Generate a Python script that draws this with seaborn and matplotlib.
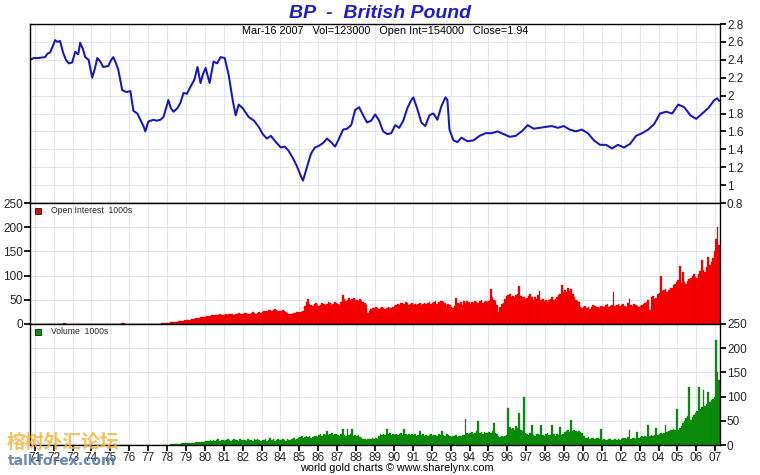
import matplotlib
matplotlib.use("Agg")
import matplotlib.pyplot as plt
import seaborn as sns

# ---------------- data ----------------
price_years = [1970.75, 1970.95, 1971.2, 1971.55, 1971.68, 1971.81, 1971.95, 1972.08, 1972.2, 1972.34,
               1972.5, 1972.65, 1972.8, 1972.98, 1973.14, 1973.3, 1973.4, 1973.55, 1973.67, 1973.85,
               1974.04, 1974.18, 1974.31, 1974.47, 1974.62, 1974.89, 1975.05, 1975.16, 1975.3, 1975.42,
               1975.63, 1975.85, 1976.06, 1976.22, 1976.43, 1976.59, 1976.75, 1976.85, 1977.01, 1977.28,
               1977.45, 1977.65, 1977.81, 1978.07, 1978.2, 1978.34, 1978.55, 1978.71, 1978.87, 1979.05,
               1979.24, 1979.45, 1979.61, 1979.77, 1979.9, 1980.04, 1980.25, 1980.46, 1980.65, 1980.83,
               1981.05, 1981.26, 1981.47, 1981.63, 1981.79, 1982.0, 1982.32, 1982.6, 1982.85, 1983.06,
               1983.28, 1983.49, 1983.8, 1984.02, 1984.23, 1984.44, 1984.66, 1984.87, 1985.08, 1985.19,
               1985.4, 1985.61, 1985.82, 1986.04, 1986.25, 1986.46, 1986.67, 1986.89, 1987.1, 1987.31,
               1987.52, 1987.74, 1987.95, 1988.16, 1988.37, 1988.58, 1988.8, 1989.01, 1989.22, 1989.43,
               1989.65, 1989.86, 1990.07, 1990.28, 1990.5, 1990.71, 1990.92, 1991.03, 1991.24, 1991.45,
               1991.66, 1991.88, 1992.09, 1992.3, 1992.51, 1992.73, 1992.83, 1992.94, 1993.15, 1993.36,
               1993.57, 1993.89, 1994.21, 1994.53, 1994.85, 1995.17, 1995.48, 1995.8, 1996.12, 1996.44,
               1996.76, 1997.08, 1997.39, 1997.71, 1998.03, 1998.35, 1998.67, 1998.99, 1999.3, 1999.62,
               1999.94, 2000.26, 2000.58, 2000.9, 2001.22, 2001.54, 2001.85, 2002.17, 2002.49, 2002.81,
               2003.13, 2003.45, 2003.76, 2004.08, 2004.4, 2004.72, 2005.04, 2005.36, 2005.68, 2005.99,
               2006.31, 2006.63, 2006.95, 2007.1, 2007.21]
price_vals = [2.40, 2.42, 2.42, 2.43, 2.47, 2.48, 2.55, 2.62, 2.60, 2.61,
              2.48, 2.40, 2.36, 2.37, 2.49, 2.46, 2.59, 2.52, 2.43, 2.40,
              2.20, 2.30, 2.42, 2.38, 2.32, 2.33, 2.40, 2.43, 2.36, 2.29,
              2.06, 2.04, 2.05, 1.83, 1.80, 1.73, 1.66, 1.60, 1.71, 1.73,
              1.72, 1.73, 1.76, 1.95, 1.86, 1.82, 1.86, 1.92, 2.03, 2.02,
              2.10, 2.18, 2.32, 2.14, 2.24, 2.31, 2.14, 2.38, 2.36, 2.43,
              2.42, 2.23, 1.95, 1.78, 1.90, 1.86, 1.76, 1.72, 1.65, 1.57,
              1.52, 1.55, 1.47, 1.42, 1.43, 1.38, 1.30, 1.21, 1.10, 1.05,
              1.20, 1.35, 1.42, 1.44, 1.47, 1.52, 1.48, 1.43, 1.52, 1.62,
              1.63, 1.67, 1.84, 1.87, 1.78, 1.70, 1.72, 1.79, 1.72, 1.60,
              1.57, 1.58, 1.67, 1.64, 1.72, 1.86, 1.95, 1.98, 1.85, 1.70,
              1.66, 1.78, 1.80, 1.73, 1.88, 1.98, 1.95, 1.62, 1.50, 1.48,
              1.53, 1.49, 1.50, 1.55, 1.58, 1.58, 1.60, 1.57, 1.54, 1.55,
              1.60, 1.67, 1.63, 1.64, 1.65, 1.66, 1.64, 1.66, 1.62, 1.60,
              1.62, 1.58, 1.50, 1.45, 1.45, 1.41, 1.45, 1.42, 1.46, 1.55,
              1.58, 1.62, 1.68, 1.80, 1.82, 1.80, 1.90, 1.87, 1.78, 1.74,
              1.80, 1.86, 1.95, 1.97, 1.94]

first_year = 1971
# Open interest (1000s), monthly Jan 1971 .. Mar 2007
open_interest = [
    0, 0, 0, 0, 0, 0, 0, 0, 0, 0, 0, 0,            # 1971
    0, 0, 0, 0, 0, 1, 2, 2, 1, 1, 1, 1,            # 1972
    1, 1, 0, 0, 0, 0, 0, 0, 1, 1, 0, 0,            # 1973
    0, 0, 0, 0, 0, 0, 0, 0, 0, 0, 0, 0,            # 1974
    0, 0, 0, 0, 0, 0, 1, 2, 2, 1, 0, 0,            # 1975
    0, 0, 0, 0, 0, 0, 0, 0, 1, 1, 1, 0,            # 1976
    0, 0, 0, 0, 1, 1, 1, 1, 2, 2, 3, 3,            # 1977
    3, 3, 4, 4, 4, 5, 5, 6, 6, 7, 7, 8,            # 1978
    8, 9, 9, 10, 10, 11, 12, 12, 13, 14, 15, 15,   # 1979
    15, 16, 17, 17, 18, 18, 19, 18, 19, 20, 19, 19,  # 1980
    19, 20, 19, 20, 21, 20, 19, 20, 21, 22, 20, 21,  # 1981
    21, 22, 23, 21, 20, 22, 24, 22, 21, 23, 25, 22,  # 1982
    24, 26, 27, 26, 28, 29, 27, 28, 30, 28, 27, 26,  # 1983
    27, 28, 26, 25, 22, 21, 20, 21, 22, 23, 24, 25,  # 1984
    24, 25, 27, 38, 46, 52, 42, 40, 38, 41, 44, 40,  # 1985
    38, 40, 44, 42, 39, 41, 45, 43, 40, 42, 46, 44,  # 1986
    42, 40, 45, 60, 52, 48, 50, 54, 49, 51, 53, 50,  # 1987
    50, 47, 52, 48, 45, 44, 40, 23, 26, 30, 33, 34,  # 1988
    35, 33, 32, 34, 36, 33, 31, 34, 35, 33, 34, 36,  # 1989
    38, 40, 42, 40, 44, 43, 41, 45, 44, 40, 41, 43,  # 1990
    40, 42, 39, 41, 43, 40, 42, 44, 41, 43, 45, 42,  # 1991
    44, 46, 48, 42, 45, 47, 48, 46, 43, 40, 41, 39,  # 1992
    36, 34, 38, 54, 44, 42, 46, 40, 48, 44, 47, 45,  # 1993
    42, 46, 44, 48, 45, 43, 47, 49, 44, 46, 48, 45,  # 1994
    47, 73, 55, 50, 48, 40, 24, 35, 42, 44, 52, 58,  # 1995
    60, 62, 55, 58, 56, 60, 62, 78, 58, 56, 55, 52,  # 1996
    54, 58, 62, 55, 50, 56, 52, 60, 69, 49, 51, 48,  # 1997
    50, 46, 49, 52, 55, 50, 52, 56, 60, 62, 80, 66,  # 1998
    70, 66, 75, 68, 72, 62, 55, 50, 48, 46, 36, 33,  # 1999
    35, 38, 34, 36, 32, 35, 40, 38, 36, 36, 34, 37,  # 2000
    38, 36, 40, 42, 35, 38, 40, 66, 37, 39, 41, 38,  # 2001
    40, 42, 38, 36, 44, 52, 40, 38, 42, 40, 37, 36,  # 2002
    38, 40, 42, 44, 46, 50, 28, 56, 58, 52, 54, 62,  # 2003
    64, 100, 68, 70, 72, 66, 70, 75, 74, 80, 82, 86,  # 2004
    90, 119, 84, 108, 86, 82, 88, 92, 96, 100, 104, 98,  # 2005
    96, 104, 110, 132, 112, 108, 118, 139, 122, 128, 136, 150,  # 2006
    175, 201, 163,                                   # 2007
]
# Volume (1000s), monthly Jan 1971 .. Mar 2007
volume = [
    0, 0, 0, 0, 0, 0, 0, 0, 0, 0, 0, 0,            # 1971
    0, 0, 0, 0, 0, 0, 0, 0, 0, 0, 0, 0,            # 1972
    0, 0, 0, 0, 0, 0, 0, 0, 0, 0, 0, 0,            # 1973
    0, 0, 0, 0, 0, 0, 0, 0, 0, 0, 0, 0,            # 1974
    0, 0, 0, 0, 0, 0, 0, 0, 0, 0, 0, 0,            # 1975
    0, 0, 0, 0, 0, 0, 0, 0, 0, 0, 0, 0,            # 1976
    0, 0, 0, 0, 0, 0, 1, 1, 1, 1, 1, 1,            # 1977
    1, 1, 2, 2, 2, 2, 3, 3, 3, 4, 4, 4,            # 1978
    4, 4, 5, 5, 5, 5, 6, 6, 6, 6, 7, 7,            # 1979
    8, 9, 8, 10, 9, 11, 8, 10, 12, 9, 10, 11,      # 1980
    9, 10, 12, 11, 9, 10, 13, 10, 11, 9, 12, 10,   # 1981
    10, 11, 9, 12, 10, 11, 9, 13, 10, 12, 11, 9,   # 1982
    11, 10, 12, 9, 11, 14, 10, 12, 9, 11, 13, 10,  # 1983
    10, 12, 11, 9, 13, 11, 10, 12, 15, 11, 12, 14,  # 1984
    16, 18, 15, 17, 19, 16, 18, 15, 17, 19, 18, 16,  # 1985
    20, 22, 19, 23, 21, 29, 20, 22, 24, 21, 23, 22,  # 1986
    20, 19, 22, 33, 21, 19, 33, 20, 22, 33, 19, 21,  # 1987
    18, 20, 17, 15, 13, 12, 11, 12, 13, 12, 14, 13,  # 1988
    14, 13, 18, 22, 20, 23, 21, 33, 22, 24, 20, 22,  # 1989
    21, 23, 20, 22, 24, 21, 33, 22, 20, 23, 21, 22,  # 1990
    20, 22, 19, 21, 29, 20, 22, 18, 21, 19, 20, 22,  # 1991
    19, 21, 20, 18, 22, 20, 29, 21, 19, 22, 20, 18,  # 1992
    17, 19, 18, 20, 17, 19, 18, 21, 20, 53, 25, 22,  # 1993
    24, 26, 23, 25, 28, 49, 24, 26, 23, 27, 25, 24,  # 1994
    26, 24, 28, 45, 25, 23, 18, 17, 19, 16, 18, 20,  # 1995
    76, 38, 34, 36, 32, 40, 35, 67, 30, 28, 100, 25,  # 1996
    22, 20, 24, 42, 21, 19, 23, 22, 20, 42, 21, 19,  # 1997
    22, 24, 21, 20, 42, 23, 19, 22, 21, 38, 20, 22,  # 1998
    26, 28, 30, 27, 51, 29, 31, 28, 26, 29, 27, 25,  # 1999
    18, 15, 14, 16, 13, 15, 14, 13, 14, 15, 12, 34,  # 2000
    11, 12, 10, 11, 13, 12, 11, 10, 12, 11, 12, 10,  # 2001
    13, 15, 14, 12, 16, 32, 13, 14, 15, 13, 26, 14,  # 2002
    16, 18, 17, 19, 17, 42, 18, 20, 19, 21, 36, 20,  # 2003
    22, 24, 23, 25, 42, 26, 28, 30, 30, 34, 32, 74,  # 2004
    32, 36, 40, 45, 50, 55, 60, 120, 52, 58, 62, 66,  # 2005
    70, 120, 74, 78, 113, 80, 84, 110, 88, 92, 96, 100,  # 2006
    217, 150, 134,                                   # 2007
]
year_ticks = list(range(1971, 2008))
year_labels = ["%02d" % (y % 100) for y in year_ticks]
price_ticks = [0.8, 1.0, 1.2, 1.4, 1.6, 1.8, 2.0, 2.2, 2.4, 2.6, 2.8]
count_ticks = [0, 50, 100, 150, 200, 250]

title = "BP  -  British Pound"
subtitle = "Mar-16 2007   Vol=123000   Open Int=154000   Close=1.94"
footer = "world gold charts \u00a9 www.sharelynx.com"

# ---------------- style ----------------
sns.set_theme(style="white")
plt.rcParams["font.family"] = ["Liberation Sans", "DejaVu Sans", "Noto Sans CJK SC"]
grid_c = "#e3e5ee"

fig = plt.figure(figsize=(7.6, 4.75), dpi=100)
L, W = 30 / 760, 690 / 760
ax1 = fig.add_axes([L, 1 - 203 / 475, W, 179 / 475])
ax2 = fig.add_axes([L, 1 - 324 / 475, W, 121 / 475], sharex=ax1)
ax3 = fig.add_axes([L, 1 - 445 / 475, W, 121 / 475], sharex=ax1)

month_pos = [first_year + (i + 0.5) / 12 for i in range(len(open_interest))]

sns.lineplot(x=price_years, y=price_vals, ax=ax1, color="#1616c4", linewidth=1.45)
ax2.bar(month_pos, open_interest, width=1 / 12 + 0.004, color="#ff0000",
        edgecolor="#d40000", linewidth=0.2)
ax3.bar(month_pos, volume, width=1 / 12 + 0.004, color="#0b900b",
        edgecolor="#0a7a0a", linewidth=0.2)

ax1.set_xlim(1970.75, 2007.25)
ax1.set_ylim(0.8, 2.8)
ax2.set_ylim(0, 250)
ax3.set_ylim(0, 250)

for ax in (ax1, ax2, ax3):
    ax.set_xticks(year_ticks)
    ax.grid(True, color=grid_c, linewidth=0.8)
    ax.set_axisbelow(True)
    for s in ax.spines.values():
        s.set_color("black")
        s.set_linewidth(1.0)
    ax.set_xlabel("")
    ax.set_ylabel("")

ax1.set_yticks(price_ticks)
ax1.set_yticklabels(["%g" % v for v in price_ticks])
ax1.yaxis.tick_right()
ax1.tick_params(axis="y", which="both", right=True, left=False, length=4,
                direction="out", labelsize=8.5, pad=1, color="black")
ax1.tick_params(axis="x", bottom=False, labelbottom=False)

ax2.set_yticks(count_ticks)
ax2.set_yticklabels([str(v) for v in count_ticks])
ax2.tick_params(axis="y", left=True, right=False, length=4, direction="out",
                labelsize=8.5, pad=1, color="black")
ax2.tick_params(axis="x", bottom=False, labelbottom=False)

ax3.set_yticks(count_ticks)
ax3.set_yticklabels([str(v) for v in count_ticks])
ax3.yaxis.tick_right()
ax3.tick_params(axis="y", right=True, left=False, length=4, direction="out",
                labelsize=8.5, pad=1, color="black")
ax3.set_xticklabels(year_labels)
ax3.tick_params(axis="x", bottom=True, length=4, direction="out",
                labelsize=8.5, pad=1, color="black")

# legend-like labels
ax2.scatter([0.012], [0.935], marker="s", s=22, color="#d01010", edgecolor="black",
            linewidth=0.5, transform=ax2.transAxes, clip_on=False, zorder=5)
ax2.text(0.03, 0.935, "Open Interest  1000s", transform=ax2.transAxes,
         fontsize=6.2, va="center", ha="left")
ax3.scatter([0.012], [0.935], marker="s", s=22, color="#0b900b", edgecolor="black",
            linewidth=0.5, transform=ax3.transAxes, clip_on=False, zorder=5)
ax3.text(0.03, 0.935, "Volume  1000s", transform=ax3.transAxes,
         fontsize=6.2, va="center", ha="left")

fig.text(380 / 760, 1 - 13 / 475, title, ha="center", va="center", fontsize=14,
         fontweight="bold", fontstyle="italic", color="#1c1cd0")
fig.text(385 / 760, 1 - 30.5 / 475, subtitle, ha="center", va="center", fontsize=7.8,
         color="black")
fig.text(397 / 760, 1 - 468 / 475, footer, ha="center", va="center", fontsize=7.8,
         color="black")

# watermark (overlaps the first year labels, as in the reference)
fig.text(63 / 760, 1 - 442 / 475, "榕树外汇论坛", ha="center", va="center", fontsize=13.5,
         fontweight="bold", color="#f2b640", alpha=0.85,
         family=["Noto Sans CJK SC", "DejaVu Sans"])
fig.text(62 / 760, 1 - 461 / 475, "talkforex.com", ha="center", va="center", fontsize=10,
         fontweight="bold", color="#4f74a6", alpha=0.85, family=["DejaVu Sans"])

fig.savefig("out.png", dpi=100)
